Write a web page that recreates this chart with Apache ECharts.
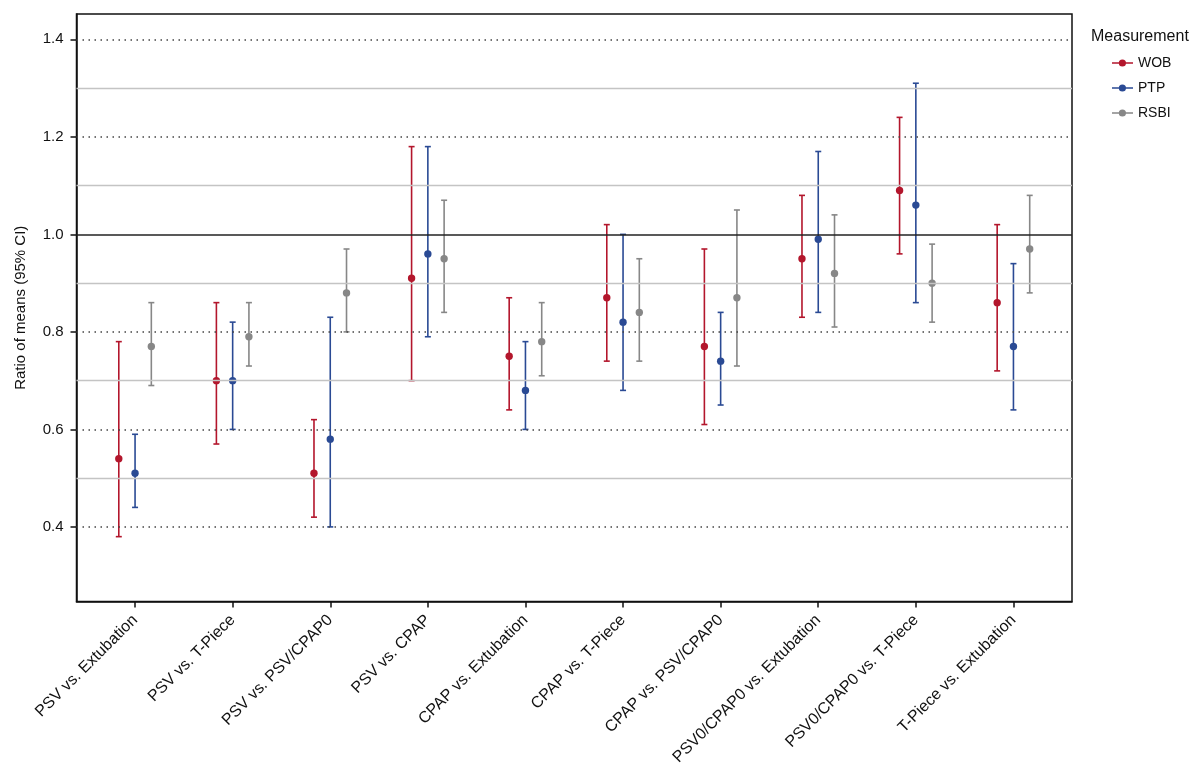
<!DOCTYPE html>
<html><head><meta charset="utf-8">
<script src="https://cdn.jsdelivr.net/npm/echarts@6/dist/echarts.min.js"></script>
<style>html,body{margin:0;padding:0;background:#fff}#c{width:1200px;height:778px}</style>
</head><body><div id="c"></div>
<script>
const categories = ["PSV vs. Extubation","PSV vs. T-Piece","PSV vs. PSV/CPAP0","PSV vs. CPAP","CPAP vs. Extubation","CPAP vs. T-Piece","CPAP vs. PSV/CPAP0","PSV0/CPAP0 vs. Extubation","PSV0/CPAP0 vs. T-Piece","T-Piece vs. Extubation"];
const wobMean = [0.54,0.70,0.51,0.91,0.75,0.87,0.77,0.95,1.09,0.86];
const wobLow  = [0.38,0.57,0.42,0.70,0.64,0.74,0.61,0.83,0.96,0.72];
const wobHigh = [0.78,0.86,0.62,1.18,0.87,1.02,0.97,1.08,1.24,1.02];
const ptpMean = [0.51,0.70,0.58,0.96,0.68,0.82,0.74,0.99,1.06,0.77];
const ptpLow  = [0.44,0.60,0.40,0.79,0.60,0.68,0.65,0.84,0.86,0.64];
const ptpHigh = [0.59,0.82,0.83,1.18,0.78,1.00,0.84,1.17,1.31,0.94];
const rsbiMean = [0.77,0.79,0.88,0.95,0.78,0.84,0.87,0.92,0.90,0.97];
const rsbiLow  = [0.69,0.73,0.80,0.84,0.71,0.74,0.73,0.81,0.82,0.88];
const rsbiHigh = [0.86,0.86,0.97,1.07,0.86,0.95,1.05,1.04,0.98,1.08];
const yTicks = [0.4,0.6,0.8,1.0,1.2,1.4];
const dottedLines = [0.4,0.6,0.8,1.2,1.4];
const grayLines = [0.5,0.7,0.9,1.1,1.3];
const refLine = 1.0;

const FONT = "Liberation Sans";
const chart = echarts.init(document.getElementById('c'));

function mk(name, color, offset, mean, lo, hi) {
  const data = mean.map((m, i) => [i + offset, m, lo[i], hi[i]]);
  return {
    name, type: 'custom', data, encode: {x: 0, y: 1},
    itemStyle: {color},
    renderItem: function (params, api) {
      const x = api.value(0);
      const p = api.coord([x, api.value(1)]);
      const l = api.coord([x, api.value(2)]);
      const h = api.coord([x, api.value(3)]);
      const st = {stroke: color, lineWidth: 1.6, fill: null};
      const cw = 3;
      return {type: 'group', children: [
        {type: 'line', shape: {x1: l[0], y1: l[1], x2: h[0], y2: h[1]}, style: st},
        {type: 'line', shape: {x1: l[0]-cw, y1: l[1], x2: l[0]+cw, y2: l[1]}, style: st},
        {type: 'line', shape: {x1: h[0]-cw, y1: h[1], x2: h[0]+cw, y2: h[1]}, style: st},
        {type: 'circle', shape: {cx: p[0], cy: p[1], r: 3.7}, style: {fill: color, stroke: null}}
      ]};
    }
  };
}

const lineIcon = 'path://M0,3 L21,3 L21,4.6 L0,4.6 Z M14,3.8 A3.6,3.6 0 1,1 6.8,3.8 A3.6,3.6 0 1,1 14,3.8 Z';

const option = {
  animation: false,
  textStyle: {fontFamily: FONT},
  grid: {left: 76.5, right: 128, top: 14, bottom: 176.5, show: true, borderColor: '#111', borderWidth: 1.5, backgroundColor: 'transparent'},
  legend: {
    data: ['WOB','PTP','RSBI'], orient: 'vertical', left: 1112, top: 56, padding: 0,
    itemWidth: 21, itemHeight: 8, itemGap: 11, icon: lineIcon,
    textStyle: {fontFamily: FONT, fontSize: 14, color: '#111'}
  },
  graphic: [{type: 'text', left: 1091, top: 29, style: {text: 'Measurement', font: '16px "Liberation Sans"', fill: '#111'}}],
  xAxis: {
    type: 'value', min: -0.6, max: 9.6,
    axisLine: {show: true, onZero: false, lineStyle: {color: '#111', width: 1.5}},
    axisTick: {show: true, customValues: categories.map((c, i) => i), length: 6, lineStyle: {color: '#111', width: 1.5}},
    axisLabel: {customValues: categories.map((c, i) => i), rotate: 45, formatter: v => categories[Math.round(v)] || '', fontSize: 16, color: '#111', fontFamily: FONT, margin: 16},
    splitLine: {show: false}
  },
  yAxis: {
    type: 'value', min: 0.247, max: 1.452,
    name: 'Ratio of means (95% CI)', nameLocation: 'middle', nameGap: 48,
    nameTextStyle: {fontSize: 15, color: '#111', fontFamily: FONT},
    axisLine: {show: true, onZero: false, lineStyle: {color: '#111', width: 1.5}},
    axisTick: {show: true, customValues: yTicks, length: 6, lineStyle: {color: '#111', width: 1.5}},
    axisLabel: {customValues: yTicks, formatter: v => v.toFixed(1), fontSize: 15, color: '#111', fontFamily: FONT, margin: 13},
    splitLine: {show: false}
  },
  series: [
    {
      type: 'line', data: [], silent: true, name: 'grid',
      markLine: {
        silent: true, symbol: 'none', label: {show: false}, animation: false,
        data: [
          ...grayLines.map(v => ({yAxis: v, lineStyle: {color: '#c4c4c4', width: 1.3, type: 'solid'}})),
          ...dottedLines.map(v => ({yAxis: v, lineStyle: {color: '#444', width: 1.5, type: [1.5, 4.5]}})),
          {yAxis: refLine, lineStyle: {color: '#222', width: 1.6, type: 'solid'}}
        ]
      }
    },
    mk('WOB', '#b3162c', -1/6, wobMean, wobLow, wobHigh),
    mk('PTP', '#2a4a94', 0, ptpMean, ptpLow, ptpHigh),
    mk('RSBI', '#878787', 1/6, rsbiMean, rsbiLow, rsbiHigh)
  ]
};
chart.setOption(option);
</script></body></html>
